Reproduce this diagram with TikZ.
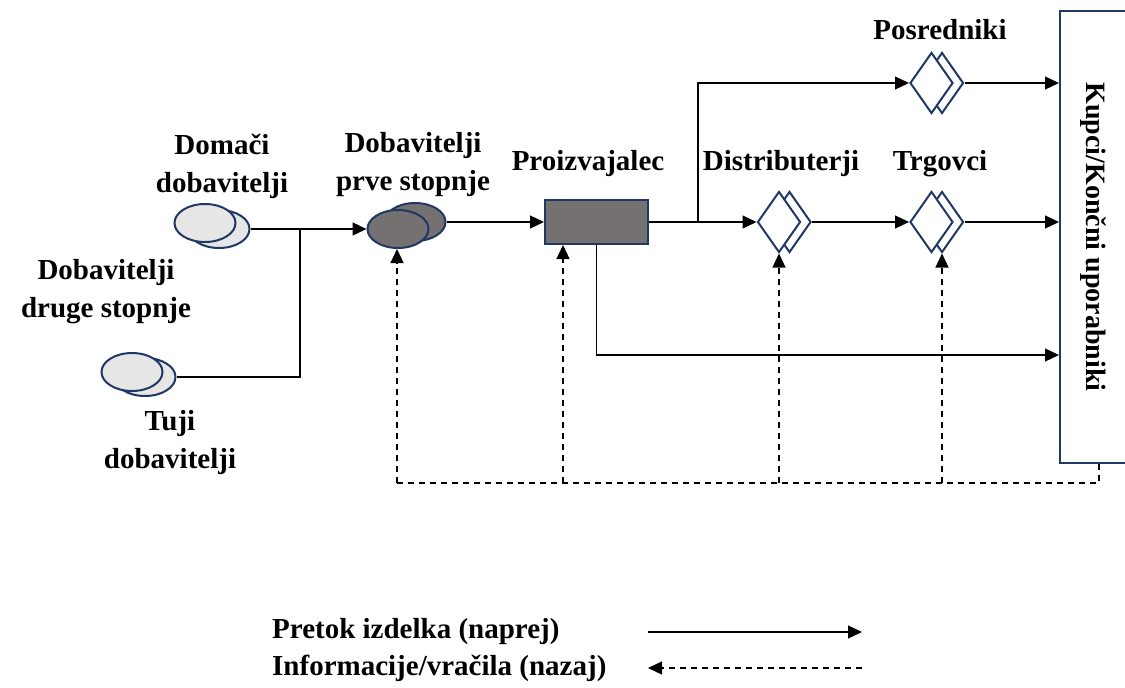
\documentclass[tikz,border=0pt]{standalone}
\usepackage{fontspec}
\setmainfont{Liberation Serif}
\usetikzlibrary{positioning,shapes.geometric,arrows.meta}
\definecolor{okvir}{HTML}{1F3864}
\definecolor{svetla}{HTML}{E7E6E6}
\definecolor{temna}{HTML}{767171}
\begin{document}
\begin{tikzpicture}[x=1pt,y=-1pt,
			oznaka/.style={font=\fontsize{29}{38}\selectfont\bfseries, align=center, inner sep=0pt},
			dobavitelj/.style={ellipse, draw=okvir, line width=2pt, fill=svetla, minimum width=61pt, minimum height=38pt, inner sep=0pt},
			prvi/.style={dobavitelj, fill=temna},
			posrednik/.style={diamond, draw=okvir, line width=2pt, fill=white, minimum width=43pt, minimum height=61pt, inner sep=0pt},
			tok/.style={line width=1.2pt, -{Triangle[length=14pt,width=13pt]}},
			info/.style={line width=1.2pt, dash pattern=on 6pt off 5pt},
			]
			\useasboundingbox (0,0) rectangle (1125,688);
			%Nodes
				\node[dobavitelj]	(domaci-2)		at (219,229)	{};
				\node[dobavitelj]	(domaci-1)		at (205,223)	{};
				\node[dobavitelj]	(tuji-2)		at (145,377)	{};
				\node[dobavitelj]	(tuji-1)		at (132,372)	{};
				\node[prvi]		(prva-2)		at (415,222)	{};
				\node[prvi]		(prva-1)		at (398,229)	{};
				\node[rectangle, draw=okvir, line width=2pt, fill=temna, minimum width=103pt, minimum height=44pt]
							(proizvajalec)	at (596.5,222)	{};
				\node[posrednik]	(distributer-2)	at (789.5,222)	{};
				\node[posrednik]	(distributer-1)	at (779,222)	{};
				\node[posrednik]	(trgovec-2)		at (942,222)	{};
				\node[posrednik]	(trgovec-1)		at (931.5,222)	{};
				\node[posrednik]	(posrednik-2)	at (942,83)		{};
				\node[posrednik]	(posrednik-1)	at (931.5,83)	{};
				% rotated box: south is its left side, east its bottom
				\node[rectangle, draw=okvir, line width=2pt, rotate=-90, minimum width=452pt, minimum height=66pt,
					font=\fontsize{28}{30}\selectfont\bfseries]
							(kupci)		at (1093,237)	{Kupci/Končni uporabniki};

			%Labels
				\node[oznaka]	(domaci-t)		at (222,166)	{Domači\\dobavitelji};
				\node[oznaka]	(druga-t)		at (106,292)	{Dobavitelji\\druge stopnje};
				\node[oznaka]	(tuji-t)		at (170,443)	{Tuji\\dobavitelji};
				\node[oznaka]	(prva-t)		at (413,165)	{Dobavitelji\\prve stopnje};
				\node[oznaka]	(proizvajalec-t)	at (588,164)	{Proizvajalec};
				\node[oznaka]	(distributer-t)	at (781,164)	{Distributerji};
				\node[oznaka]	(trgovec-t)		at (940,164)	{Trgovci};
				\node[oznaka]	(posrednik-t)	at (940,30)		{Posredniki};
				\node[oznaka, anchor=west]	(naprej-t)	at (272,632)	{Pretok izdelka (naprej)};
				\node[oznaka, anchor=west]	(nazaj-t)	at (272,668)	{Informacije/vračila (nazaj)};

			%Lines
				\coordinate (stik)		at (300,229);
				\coordinate (razcep)	at (698,222);
				\coordinate (spodaj)	at (0,355);
				\draw[line width=1.2pt] (tuji-2.east) -| (stik);
				\draw[tok] (domaci-2.east) -- (prva-1.west);
				\draw[tok] (prva-2.east) -- (prva-2.east -| proizvajalec.west);
				\draw[tok] (proizvajalec.east) -- (distributer-1.west);
				\draw[tok] (razcep) |- (posrednik-1.west);
				\draw[tok] (distributer-2.east) -- (trgovec-1.west);
				\draw[tok] (posrednik-2.east) -- (posrednik-2.east -| kupci.south);
				\draw[tok] (trgovec-2.east) -- (trgovec-2.east -| kupci.south);
				\draw[tok] (proizvajalec.south) |- (spodaj -| kupci.south);

			%Feedback
				\coordinate (p1) at (397,483);
				\coordinate (p2) at (563,483);
				\coordinate (p3) at (779,483);
				\coordinate (p4) at (942,483);
				\coordinate (p5) at (1099,483);
				\draw[info] (kupci.east -| p5) -- (p5) -- (p1);
				\draw[info, -{Triangle[length=14pt,width=13pt]}] (p1) -- (p1 |- prva-1.south);
				\draw[info, -{Triangle[length=14pt,width=13pt]}] (p2) -- (p2 |- proizvajalec.south);
				\draw[info, -{Triangle[length=14pt,width=13pt]}] (p3) -- (distributer-1.south);
				\draw[info, -{Triangle[length=14pt,width=13pt]}] (p4) -- (trgovec-2.south);

			%Legend
				\coordinate (l1) at (648,632);
				\coordinate (l2) at (862,632);
				\coordinate (l3) at (648,668);
				\coordinate (l4) at (862,668);
				\draw[tok] (l1) -- (l2);
				\draw[info, -{Triangle[length=14pt,width=13pt]}] (l4) -- (l3);
		\end{tikzpicture}
\end{document}
